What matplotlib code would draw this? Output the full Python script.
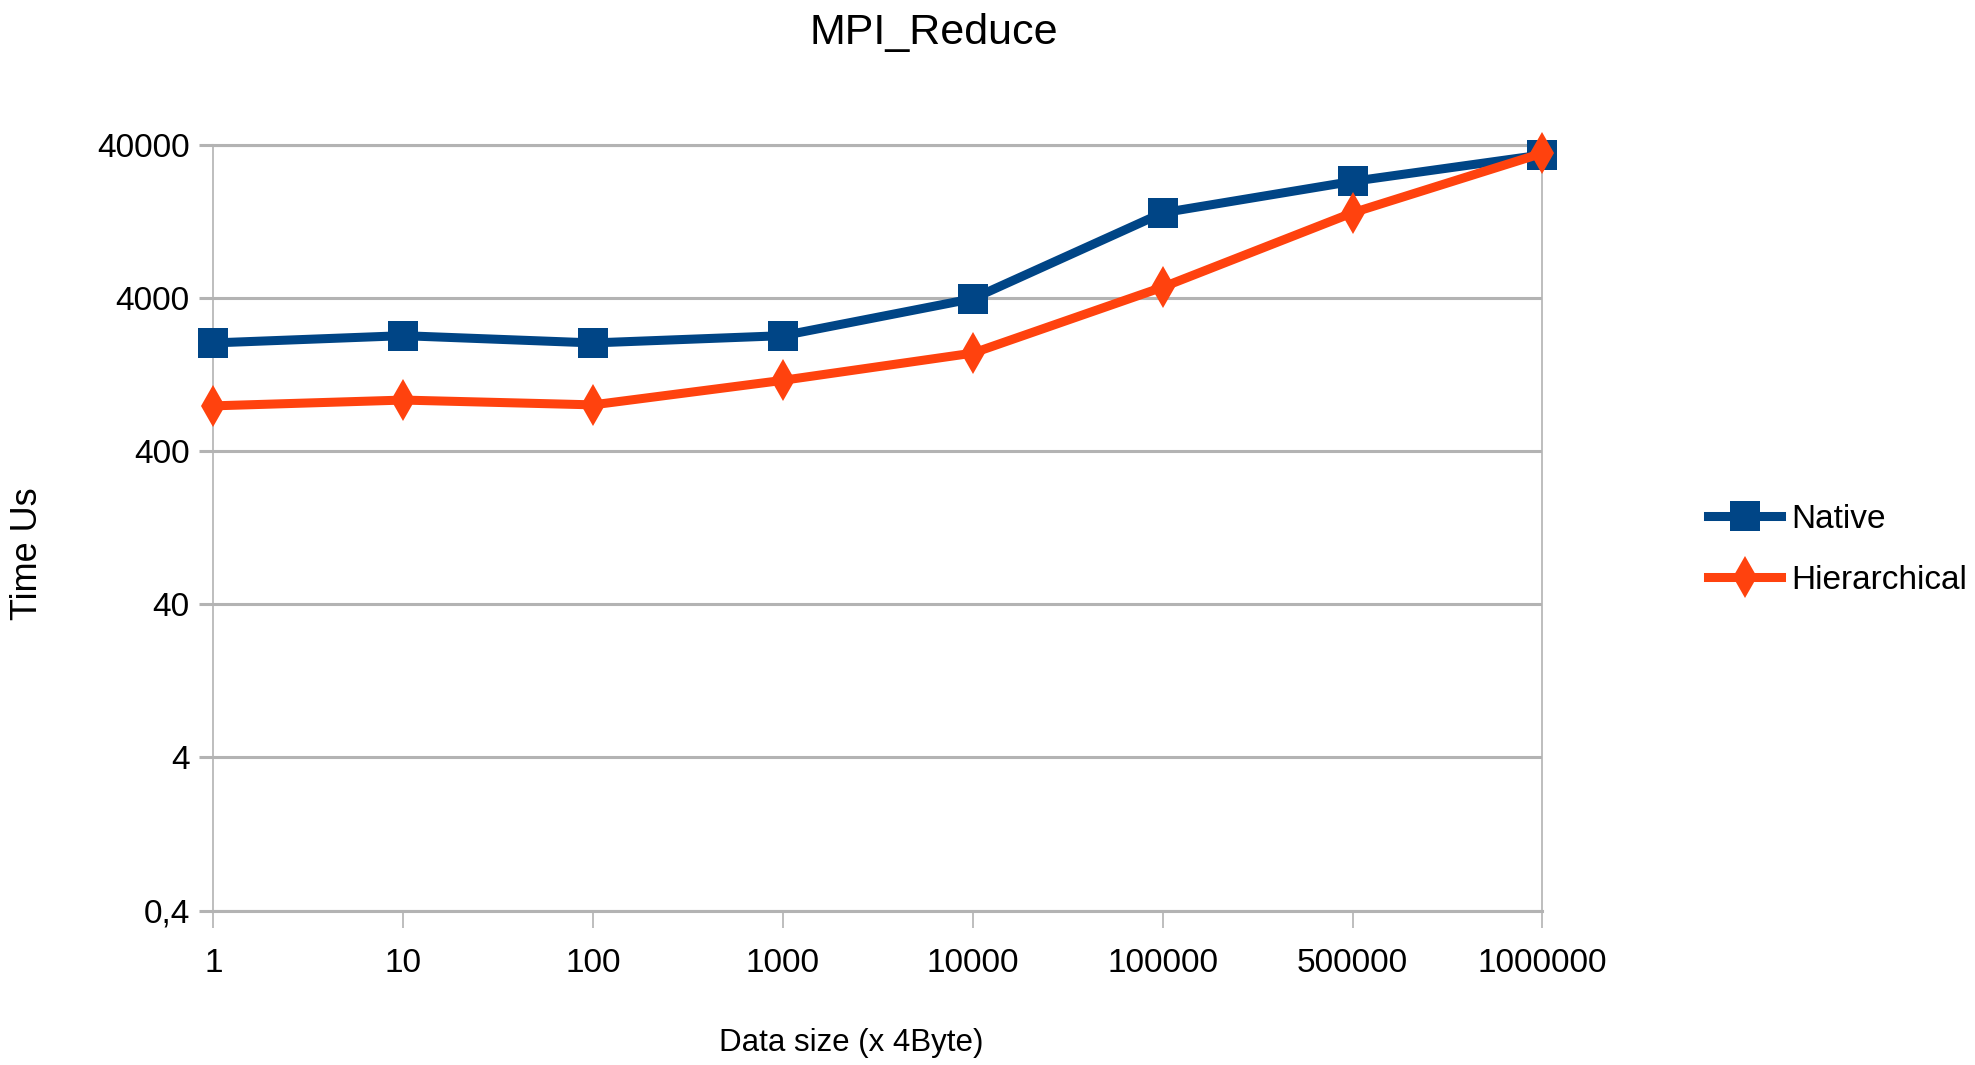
import matplotlib
matplotlib.use("Agg")
import matplotlib.pyplot as plt
from matplotlib.ticker import FixedLocator, FixedFormatter, NullLocator

plt.rcParams['font.family'] = ['Liberation Sans Narrow', 'Liberation Sans', 'DejaVu Sans']

categories = ["1", "10", "100", "1000", "10000", "100000", "500000", "1000000"]
native = [2035, 2270, 2035, 2270, 3960, 14400, 23100, 34400]
hierarchical = [790, 862, 802, 1160, 1746, 4710, 14400, 35300]
ytick_vals = [0.4, 4, 40, 400, 4000, 40000]
ytick_labels = ["0,4", "4", "40", "400", "4000", "40000"]

blue = "#004586"
orange = "#ff420e"
grid_c = "#b3b3b3"

fig = plt.figure(figsize=(19.75, 10.65), dpi=100)
ax = fig.add_axes([0.108, 0.145, 0.673, 0.719])

x = list(range(len(categories)))
ax.plot(x, native, color=blue, lw=6.5, marker='s', markersize=21,
        markeredgewidth=0, label="Native", clip_on=False, zorder=3)
ax.plot(x, hierarchical, color=orange, lw=6.5, marker='d', markersize=21,
        markeredgewidth=0, label="Hierarchical", clip_on=False, zorder=4)

ax.set_yscale('log')
ax.set_ylim(0.4, 40000)
ax.set_xlim(0, len(categories) - 1)
ax.yaxis.set_major_locator(FixedLocator(ytick_vals))
ax.yaxis.set_major_formatter(FixedFormatter(ytick_labels))
ax.yaxis.set_minor_locator(NullLocator())
ax.set_xticks(x)
ax.set_xticklabels(categories)

ax.grid(axis='y', color=grid_c, lw=2.2, zorder=0)
ax.set_axisbelow(True)
for s in ['top', 'bottom']:
    ax.spines[s].set_color(grid_c)
    ax.spines[s].set_linewidth(2.2)
for s in ['left', 'right']:
    ax.spines[s].set_color(grid_c)
    ax.spines[s].set_linewidth(1.2)

ax.tick_params(axis='y', length=10, width=2.2, color=grid_c, pad=7, labelsize=24)
ax.tick_params(axis='x', length=12, width=1.2, color=grid_c, pad=15, labelsize=24)

fig.text(0.473, 0.969, "MPI_Reduce", ha='center', va='center', fontsize=31)
fig.text(0.431, 0.021, "Data size (x 4Byte)", ha='center', va='center', fontsize=22.5)
fig.text(0.014, 0.48, "Time Us", ha='center', va='center', rotation=90, fontsize=26)

leg = fig.legend(loc='center left', bbox_to_anchor=(0.858, 0.484), frameon=False,
                 fontsize=24, handlelength=2.2, handletextpad=0.3, labelspacing=0.9,
                 borderaxespad=0)

fig.savefig("out.png", dpi=100)
